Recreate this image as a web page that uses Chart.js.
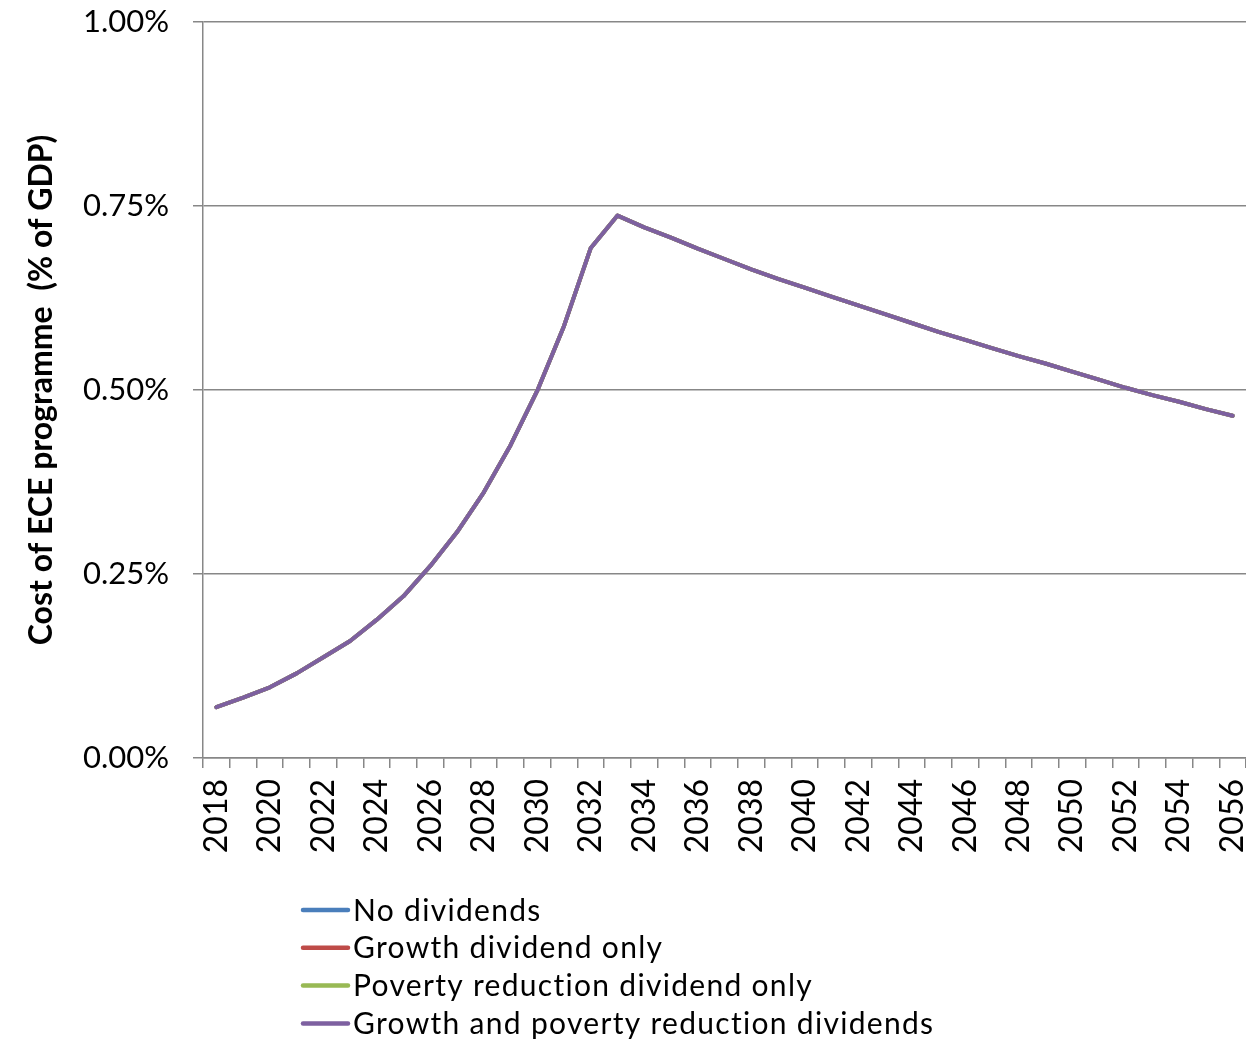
<!DOCTYPE html>
<html>
<head>
<meta charset="utf-8">
<title>Cost of ECE programme</title>
<script src="https://cdn.jsdelivr.net/npm/chart.js@4/dist/chart.umd.min.js"></script>
<style>
  html, body { margin: 0; padding: 0; background: #ffffff; overflow: hidden; }
  #wrap { width: 1246px; height: 1039px; }
</style>
</head>
<body>
<div id="wrap"><canvas id="chart" width="1246" height="1039"></canvas></div>
<script>
// Years on the category axis
const years = [
  '2018','2019','2020','2021','2022','2023','2024','2025','2026','2027',
  '2028','2029','2030','2031','2032','2033','2034','2035','2036','2037',
  '2038','2039','2040','2041','2042','2043','2044','2045','2046','2047',
  '2048','2049','2050','2051','2052','2053','2054','2055','2056'
];

// Programme cost, % of GDP, under each dividend scenario
const noDividends = [
  0.069, 0.082, 0.096, 0.115, 0.137, 0.159, 0.188, 0.220, 0.261, 0.307,
  0.361, 0.425, 0.499, 0.587, 0.693, 0.737, 0.721, 0.707, 0.692, 0.678,
  0.664, 0.651, 0.639, 0.627, 0.615, 0.603, 0.591, 0.579, 0.568, 0.557,
  0.546, 0.536, 0.525, 0.514, 0.503, 0.493, 0.484, 0.474, 0.465
];
const growthDividendOnly = [
  0.069, 0.082, 0.096, 0.115, 0.137, 0.159, 0.188, 0.220, 0.261, 0.307,
  0.361, 0.425, 0.499, 0.587, 0.693, 0.737, 0.721, 0.707, 0.692, 0.678,
  0.664, 0.651, 0.639, 0.627, 0.615, 0.603, 0.591, 0.579, 0.568, 0.557,
  0.546, 0.536, 0.525, 0.514, 0.503, 0.493, 0.484, 0.474, 0.465
];
const povertyDividendOnly = [
  0.069, 0.082, 0.096, 0.115, 0.137, 0.159, 0.188, 0.220, 0.261, 0.307,
  0.361, 0.425, 0.499, 0.587, 0.693, 0.737, 0.721, 0.707, 0.692, 0.678,
  0.664, 0.651, 0.639, 0.627, 0.615, 0.603, 0.591, 0.579, 0.568, 0.557,
  0.546, 0.536, 0.525, 0.514, 0.503, 0.493, 0.484, 0.474, 0.465
];
const bothDividends = [
  0.069, 0.082, 0.096, 0.115, 0.137, 0.159, 0.188, 0.220, 0.261, 0.307,
  0.361, 0.425, 0.499, 0.587, 0.693, 0.737, 0.721, 0.707, 0.692, 0.678,
  0.664, 0.651, 0.639, 0.627, 0.615, 0.603, 0.591, 0.579, 0.568, 0.557,
  0.546, 0.536, 0.525, 0.514, 0.503, 0.493, 0.484, 0.474, 0.465
];

const seriesNames = [
  'No dividends',
  'Growth dividend only',
  'Poverty reduction dividend only',
  'Growth and poverty reduction dividends'
];

const yTicks = [0, 0.25, 0.5, 0.75, 1.0];

const FONT = 'Lato, "Open Sans", sans-serif';
const GRID = '#878787';

// Legend stacked one entry per row, line sample then label
const stackedLegend = {
  id: 'stackedLegend',
  afterDraw(chart, args, opts) {
    const ctx = chart.ctx;
    ctx.save();
    ctx.font = opts.font;
    if ('letterSpacing' in ctx) ctx.letterSpacing = opts.letterSpacing;
    ctx.textBaseline = 'middle';
    ctx.textAlign = 'left';
    chart.data.datasets.forEach((ds, i) => {
      const y = opts.top + i * opts.rowHeight;
      ctx.strokeStyle = ds.borderColor;
      ctx.lineWidth = opts.lineWidth;
      ctx.lineCap = 'round';
      ctx.beginPath();
      ctx.moveTo(opts.left, y);
      ctx.lineTo(opts.left + opts.lineLength, y);
      ctx.stroke();
      ctx.fillStyle = '#000000';
      ctx.fillText(ds.label, opts.left + opts.lineLength + opts.gap, y + 1);
    });
    ctx.restore();
  }
};

const lineStyle = (color, order) => ({
  borderColor: color,
  backgroundColor: color,
  borderWidth: 4,
  pointRadius: 0,
  pointHoverRadius: 0,
  tension: 0,
  fill: false,
  borderJoinStyle: 'round',
  borderCapStyle: 'round',
  order: order
});

new Chart(document.getElementById('chart'), {
  type: 'line',
  data: {
    labels: years,
    datasets: [
      Object.assign({ label: seriesNames[0], data: noDividends }, lineStyle('#4A7EBB', 4)),
      Object.assign({ label: seriesNames[1], data: growthDividendOnly }, lineStyle('#BE4B48', 3)),
      Object.assign({ label: seriesNames[2], data: povertyDividendOnly }, lineStyle('#98B954', 2)),
      Object.assign({ label: seriesNames[3], data: bothDividends }, lineStyle('#7D60A0', 1))
    ]
  },
  plugins: [stackedLegend],
  options: {
    responsive: false,
    animation: false,
    devicePixelRatio: 1,
    layout: { padding: { top: 22, left: 0, right: 0, bottom: 181 } },
    plugins: {
      legend: { display: false },
      tooltip: { enabled: false },
      stackedLegend: {
        left: 303,
        top: 910,
        rowHeight: 37.8,
        lineLength: 45,
        lineWidth: 4.5,
        gap: 5,
        letterSpacing: '1.3px',
        font: '30px ' + FONT
      }
    },
    scales: {
      x: {
        type: 'category',
        offset: true,
        afterFit: (scale) => {
          scale.height = 100;
          scale.paddingLeft = 0;
          scale.paddingRight = 0;
        },
        grid: {
          display: true,
          offset: true,
          drawOnChartArea: false,
          drawTicks: true,
          tickLength: 10,
          color: GRID,
          lineWidth: 1.5
        },
        border: { display: true, color: GRID, width: 1.5 },
        ticks: {
          autoSkip: false,
          minRotation: 90,
          maxRotation: 90,
          padding: 11,
          color: '#000000',
          font: { family: FONT, size: 32 },
          callback: function (value, index) {
            return index % 2 === 0 ? years[index] : '';
          }
        }
      },
      y: {
        min: 0,
        max: 1,
        afterFit: (scale) => {
          scale.width = 203;
          scale.paddingTop = 0;
          scale.paddingBottom = 0;
        },
        afterBuildTicks: (scale) => { scale.ticks = yTicks.map(v => ({ value: v })); },
        grid: {
          display: true,
          drawTicks: true,
          tickLength: 10,
          color: GRID,
          lineWidth: 1.5
        },
        border: { display: true, color: GRID, width: 1.5 },
        ticks: {
          padding: 24,
          color: '#000000',
          font: { family: FONT, size: 31 },
          callback: (v) => Number(v).toFixed(2) + '%'
        },
        title: {
          display: true,
          text: 'Cost of ECE programme  (% of GDP)',
          color: '#000000',
          font: { family: FONT, size: 32, weight: 'bold' },
          padding: { top: 22, bottom: 0 }
        }
      }
    }
  }
});
</script>
</body>
</html>
